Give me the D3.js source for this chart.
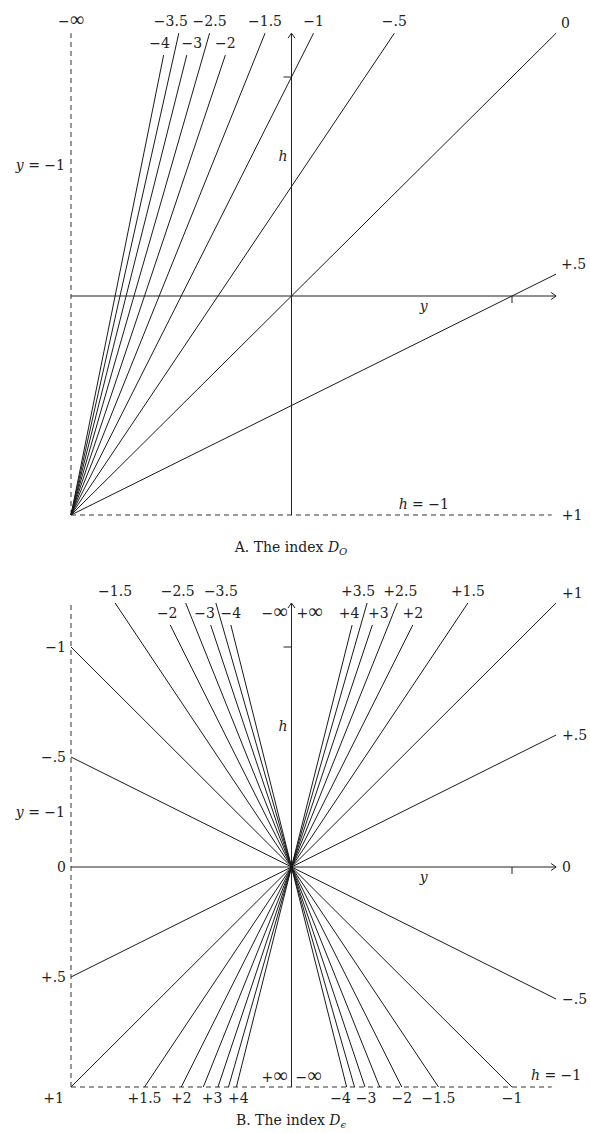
<!DOCTYPE html>
<html>
<head>
<meta charset="utf-8">
<script src="https://cdn.jsdelivr.net/npm/d3@7"></script>
<style>
body { margin: 0; background: #fff; }
text { font-family: "DejaVu Serif", "Liberation Serif", serif; font-size: 14px; fill: #222; }
.it { font-style: italic; }
.inf { font-family: "Liberation Serif", serif; font-size: 20px; }
</style>
</head>
<body>
<svg id="chart" width="590" height="1133"></svg>
<script>
// Panel A: lines out of the corner (y,h) = (-1,-1), slope = 1 - index
const indexA = [-4, -3.5, -3, -2.5, -2, -1.5, -1, -0.5, 0, 0.5];
const labelA = ["−4", "−3.5", "−3", "−2.5", "−2", "−1.5", "−1", "−.5", "0", "+.5"];
const lowA = [-4, -3, -2];          // these stop short, labels on second row

// Panel B: lines through the origin, slope = index
const indexB = [-4, -3.5, -3, -2.5, -2, -1.5, -1, -0.5, 0.5, 1, 1.5, 2, 2.5, 3, 3.5, 4];
const labelB = ["−4", "−3.5", "−3", "−2.5", "−2", "−1.5", "−1", "−.5", "+.5", "+1", "+1.5", "+2", "+2.5", "+3", "+3.5", "+4"];
const lowB = [-4, -3, -2, 2, 3, 4];
const bottomB = [-4, -3, -2, -1.5, -1, 1.5, 2, 3, 4];   // labelled again on h = -1

const yMax = 1.2, hTop = 1.2, hLow = 1.1;

// small horizontal nudges for crowded labels
const nudgeTopA = {"−3.5": -8, "−3": 5, "−4": -4};
const nudgeTopB = {"−2.5": -8, "−3.5": 5, "−2": -3, "−3": -6, "+3.5": -9, "+2.5": 3, "+3": 6, "+4": -3};
const nudgeBotB = {"+3": -6, "+4": 2, "−4": -6, "−3": 1};

const svg = d3.select("#chart");
const eps = 1e-6;

// clip the line through (y0,h0) with slope s to the box [-1,yMax] x [-1,hMax]
function clip(y0, h0, s, hMax) {
    let u = y0 + (-1 - h0) / s, v = y0 + (hMax - h0) / s;
    let ya = Math.max(-1, Math.min(u, v)), yb = Math.min(yMax, Math.max(u, v));
    return [[ya, h0 + s * (ya - y0)], [yb, h0 + s * (yb - y0)]];
}

function arrow(g, x, y, dir) {
    let p = dir == "right" ? `M${x-5},${y-3.5}L${x},${y}L${x-5},${y+3.5}` : `M${x-3.5},${y+5}L${x},${y}L${x+3.5},${y+5}`;
    g.append("path").attr("d", p).attr("fill", "none").attr("stroke", "#222").attr("stroke-width", 1);
}

// "−∞" / "+∞" with a wider infinity sign
function infLabel(g, x, y, sign, anchor) {
    let t = g.append("text").attr("x", x).attr("y", y).attr("text-anchor", anchor);
    t.append("tspan").text(sign);
    t.append("tspan").attr("class", "inf").text("∞");
}

function frame(g, x, h) {
    // dashed borders y = -1 and h = -1
    g.append("line").attr("x1", x(-1)).attr("x2", x(-1)).attr("y1", h(-1)).attr("y2", h(hTop))
        .attr("stroke", "#333").attr("stroke-dasharray", "5,4");
    g.append("line").attr("x1", x(-1)).attr("x2", x(1.18)).attr("y1", h(-1)).attr("y2", h(-1))
        .attr("stroke", "#333").attr("stroke-dasharray", "5,4");
    // axes
    g.append("line").attr("x1", x(-1)).attr("x2", x(yMax)).attr("y1", h(0)).attr("y2", h(0)).attr("stroke", "#222");
    g.append("line").attr("x1", x(0)).attr("x2", x(0)).attr("y1", h(-1)).attr("y2", h(hTop)).attr("stroke", "#222");
    arrow(g, x(yMax), h(0), "right");
    arrow(g, x(0), h(hTop), "up");
    // unit ticks
    g.append("line").attr("x1", x(1)).attr("x2", x(1)).attr("y1", h(0)).attr("y2", h(0) + 7).attr("stroke", "#222");
    g.append("line").attr("x1", x(0) - 8).attr("x2", x(0)).attr("y1", h(1)).attr("y2", h(1)).attr("stroke", "#222");
    // axis names
    g.append("text").attr("class", "it").attr("x", x(0) - 4).attr("y", h(0.64) + 5).attr("text-anchor", "end").text("h");
    g.append("text").attr("class", "it").attr("x", x(0.6)).attr("y", h(0) + 15).attr("text-anchor", "middle").text("y");
}

function eqLabel(g, x, y, v, anchor) {
    let t = g.append("text").attr("x", x).attr("y", y).attr("text-anchor", anchor);
    t.append("tspan").attr("class", "it").text(v);
    t.append("tspan").text(" = −1");
}

function caption(g, x, y, head, sub) {
    let t = g.append("text").attr("x", x).attr("y", y).attr("text-anchor", "middle");
    t.append("tspan").text(head);
    t.append("tspan").attr("class", "it").text("D");
    t.append("tspan").attr("class", "it").attr("dy", 3).attr("font-size", 10).text(sub);
}

function line(g, x, h, seg) {
    g.append("line")
        .attr("x1", x(seg[0][0])).attr("y1", h(seg[0][1]))
        .attr("x2", x(seg[1][0])).attr("y2", h(seg[1][1]))
        .attr("stroke", "#1a1a1a").attr("stroke-width", 1);
}

// ---------- Panel A ----------
let xA = d3.scaleLinear().domain([-1, 1]).range([71, 512]);
let hA = d3.scaleLinear().domain([-1, 1]).range([515, 77]);
let gA = svg.append("g");
frame(gA, xA, hA);

indexA.forEach((c, i) => {
    let hMax = lowA.includes(c) ? hLow : hTop;
    let seg = clip(-1, -1, 1 - c, hMax);
    line(gA, xA, hA, seg);
    let e = seg[1], lab = labelA[i];
    if (e[0] >= yMax - eps) {
        gA.append("text").attr("x", xA(e[0]) + 5).attr("y", hA(e[1]) - 5).text(lab);
    } else {
        gA.append("text").attr("x", xA(e[0]) + (nudgeTopA[lab] || 0)).attr("y", hA(e[1]) - 7)
            .attr("text-anchor", "middle").text(lab);
    }
});
infLabel(gA, xA(-1), hA(hTop) - 7, "−", "middle");
gA.append("text").attr("x", xA(1.18) + 10).attr("y", hA(-1) + 5).text("+1");
eqLabel(gA, xA(-1) - 6, hA(0.6) + 5, "y", "end");
eqLabel(gA, xA(0.6), hA(-1) - 6, "h", "middle");
caption(gA, 291, 552, "A. The index ", "O");

// ---------- Panel B ----------
let xB = d3.scaleLinear().domain([-1, 1]).range([71, 512]);
let hB = d3.scaleLinear().domain([-1, 1]).range([1087, 647]);
let gB = svg.append("g");
frame(gB, xB, hB);

indexB.forEach((s, i) => {
    let hMax = lowB.includes(s) ? hLow : hTop;
    let seg = clip(0, 0, s, hMax);
    line(gB, xB, hB, seg);
    let lab = labelB[i];
    seg.forEach(p => {
        let px = xB(p[0]), py = hB(p[1]);
        if (p[0] >= yMax - eps) {
            // right edge
            let t = gB.append("text").attr("x", px + 6).text(lab);
            if (p[1] >= hTop - eps) t.attr("y", py - 5); else t.attr("y", py + 5);
        } else if (p[1] >= hMax - eps) {
            // top edge
            gB.append("text").attr("x", px + (nudgeTopB[lab] || 0)).attr("y", py - 7)
                .attr("text-anchor", "middle").text(lab);
        } else if (p[0] <= -1 + eps) {
            // left edge
            if (p[1] <= -1 + eps) {
                gB.append("text").attr("x", px - 7).attr("y", py + 16).attr("text-anchor", "end").text(lab);
            } else {
                gB.append("text").attr("x", px - 5).attr("y", py + 5).attr("text-anchor", "end").text(lab);
            }
        } else if (bottomB.includes(s)) {
            gB.append("text").attr("x", px + (nudgeBotB[lab] || 0)).attr("y", py + 16)
                .attr("text-anchor", "middle").text(lab);
        }
    });
});
// horizontal axis is index 0
gB.append("text").attr("x", xB(-1) - 5).attr("y", hB(0) + 5).attr("text-anchor", "end").text("0");
gB.append("text").attr("x", xB(yMax) + 6).attr("y", hB(0) + 5).text("0");
// vertical axis is index ±∞
infLabel(gB, xB(0) - 4, hB(hLow) - 7, "−", "end");
infLabel(gB, xB(0) + 5, hB(hLow) - 7, "+", "start");
infLabel(gB, xB(0) - 4, hB(-1) - 5, "+", "end");
infLabel(gB, xB(0) + 4, hB(-1) - 5, "−", "start");
eqLabel(gB, xB(-1) - 6, hB(0.25) + 5, "y", "end");
eqLabel(gB, xB(1.2), hB(-1) - 7, "h", "middle");
caption(gB, 291, 1125, "B. The index ", "ϵ");
</script>
</body>
</html>
